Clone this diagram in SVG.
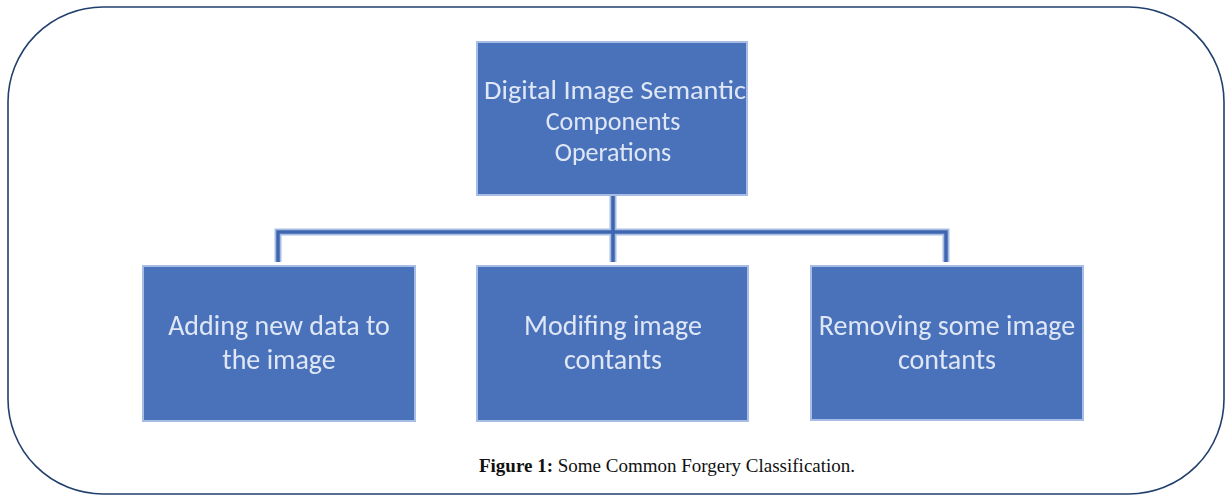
<svg xmlns="http://www.w3.org/2000/svg" width="1226" height="495" viewBox="0 0 1226 495">
  <defs>
    <filter id="soft" x="-5%" y="-20%" width="110%" height="140%">
      <feGaussianBlur stdDeviation="0.7"/>
    </filter>
  </defs>
  <style>
    .box { fill: #4a72bb; stroke: #a8bde6; stroke-width: 2; }
    .label { font-family: Carlito, "Liberation Sans", Arial, sans-serif; font-size: 28px; fill: #dfe7f6; text-anchor: middle; filter: url(#soft); }
    .root .label { font-size: 26px; }
    .bar-outer { stroke: #a9bde4; stroke-width: 7; fill: none; }
    .bar-inner { stroke: #3f67b0; stroke-width: 3.5; fill: none; }
    .caption { font-family: "Liberation Serif", "Times New Roman", serif; font-size: 19px; fill: #111; }
  </style>

  <!-- outer rounded frame -->
  <rect x="8" y="7" width="1216" height="487" rx="95" ry="95" fill="#ffffff" stroke="#22406e" stroke-width="1.6"/>

  <!-- tree connectors -->
  <g id="connectors">
    <path class="bar-outer" d="M613 195 V262 M278 262 V232 H946 V262"/>
    <path class="bar-inner" d="M613 195 V262 M278 262 V232 H946 V262"/>
  </g>

  <g id="node-root" class="root">
    <rect class="box" x="477" y="42" width="270" height="153"/>
    <text class="label" x="615" y="99" textLength="262" lengthAdjust="spacingAndGlyphs">Digital Image Semantic</text>
    <text class="label" x="613" y="130">Components</text>
    <text class="label" x="613" y="161">Operations</text>
  </g>

  <g id="node-adding">
    <rect class="box" x="143" y="266" width="272" height="155"/>
    <text class="label" x="279" y="335">Adding new data to</text>
    <text class="label" x="279" y="369">the image</text>
  </g>

  <g id="node-modifying">
    <rect class="box" x="477" y="266" width="271" height="155"/>
    <text class="label" x="613" y="335">Modifing image</text>
    <text class="label" x="613" y="369">contants</text>
  </g>

  <g id="node-removing">
    <rect class="box" x="811" y="266" width="272" height="154"/>
    <text class="label" x="947" y="335">Removing some image</text>
    <text class="label" x="947" y="369">contants</text>
  </g>

  <!-- caption -->
  <text class="caption" x="667" y="472" text-anchor="middle"><tspan font-weight="bold">Figure 1:</tspan> Some Common Forgery Classification.</text>
</svg>
